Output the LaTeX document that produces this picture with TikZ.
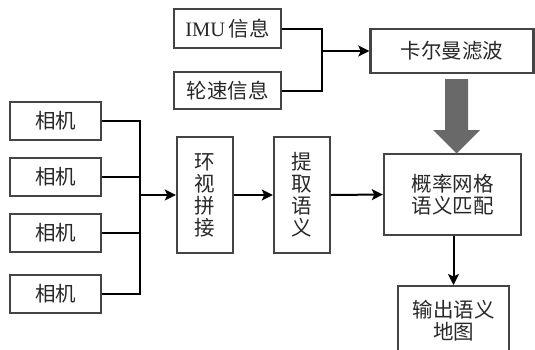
\documentclass[tikz,border=0pt]{standalone}
\usepackage{fontspec}
\setmainfont{Liberation Serif}
\newfontfamily\cjk{Noto Sans CJK SC}
\usetikzlibrary{arrows.meta}
\definecolor{boxline}{RGB}{68,68,68}
\definecolor{txt}{RGB}{40,40,40}
\definecolor{fatgray}{RGB}{105,105,105}
\tikzset{
  box/.style={draw=boxline, line width=2.4pt, fill=white, inner sep=0pt, text=txt,
    font=\fontsize{20.5}{22}\selectfont\cjk, align=center},
  conn/.style={line width=2pt, draw=black},
  arr/.style={conn, -{Stealth[length=11pt,width=11pt,inset=2.5pt]}},
}
\begin{document}
\begin{tikzpicture}[x=1pt,y=-1pt]
\useasboundingbox (0,0) rectangle (535,349);
\clip (0,0) rectangle (535,349);
\fill[white] (0,0) rectangle (535,349);
% top inputs
\node[box, minimum width=107pt, minimum height=39pt] (imu) at (227.5,28.5) {{\rmfamily IMU}\,信息};
\node[box, minimum width=107pt, minimum height=37pt] (wheel) at (227.5,90.5) {轮速信息};
\node[box, minimum width=163pt, minimum height=44pt] (kal) at (452,51) {卡尔曼滤波};
% cameras
\node[box, minimum width=91pt, minimum height=38pt] (c1) at (55.5,121) {相机};
\node[box, minimum width=91pt, minimum height=38pt] (c2) at (55.5,177) {相机};
\node[box, minimum width=91pt, minimum height=38pt] (c3) at (55.5,233) {相机};
\node[box, minimum width=91pt, minimum height=38pt] (c4) at (55.5,294) {相机};
% processing
\node[box, minimum width=56pt, minimum height=116pt] (sv) at (205,195) {环\\视\\拼\\接};
\node[box, minimum width=56pt, minimum height=116pt] (sem) at (302,195) {提\\取\\语\\义};
\node[box, minimum width=137pt, minimum height=81pt] (grid) at (452.5,194.5) {概率网格\\语义匹配};
\node[box, minimum width=111pt, minimum height=68pt, anchor=north] (out) at (453.5,285) {输出语义\\地图};
% bus for cameras
\coordinate (bus1) at (140,121);
\coordinate (bus4) at (140,294);
\coordinate (busm) at (140,195);
\draw[conn] (c1.east) -- (bus1) -- (bus4) -- (c4.east);
\draw[conn] (c2.east) -- (c2.east -| bus1);
\draw[conn] (c3.east) -- (c3.east -| bus1);
\draw[arr] (busm) -- (sv.west);
\draw[arr] (sv.east) -- (sem.west);
\draw[arr] (sem.east) -- (grid.west);
% IMU/wheel merge
\coordinate (m1) at (322,28.5);
\coordinate (m2) at (322,90.5);
\coordinate (mm) at (322,51);
\draw[conn] (imu.east) -- (m1) -- (m2) -- (wheel.east);
\draw[arr] (mm) -- (kal.west);
% fat gray arrow
\fill[fatgray] (445,79) -- (468,79) -- (468,130) -- (480,130) -- (456.5,153.5) -- (433,130) -- (445,130) -- cycle;
% output arrow
\draw[arr] (grid.south -| out.north) -- (out.north);
\end{tikzpicture}
\end{document}
